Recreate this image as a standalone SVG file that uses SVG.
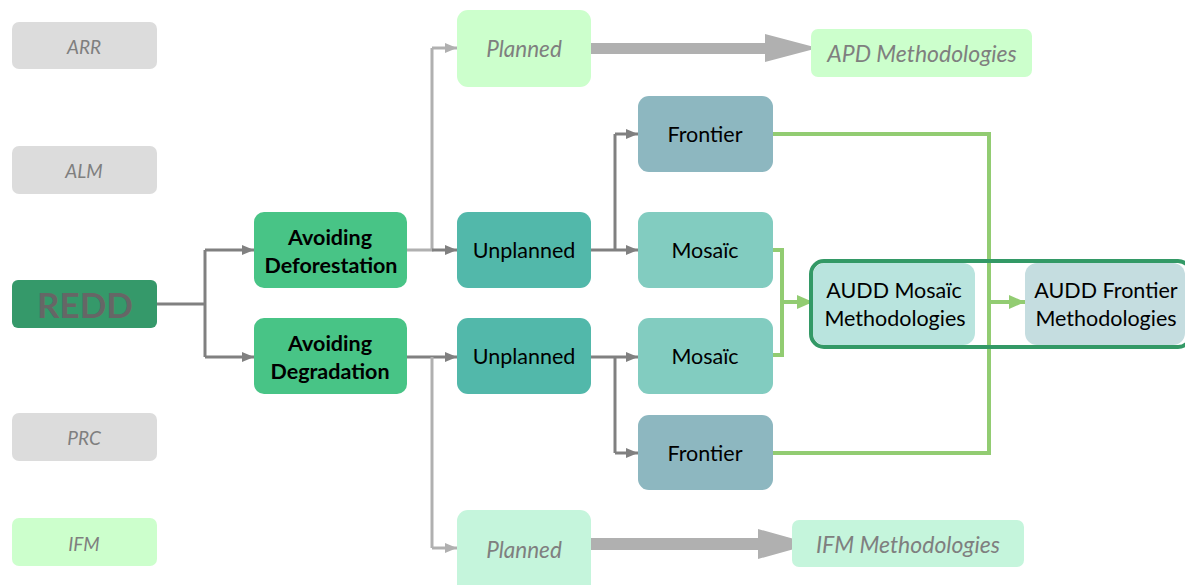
<svg xmlns="http://www.w3.org/2000/svg" width="1185" height="585" viewBox="0 0 1185 585">
<defs>
<style>
.t{font-family:Lato,"Open Sans","Liberation Sans",sans-serif;text-anchor:middle;dominant-baseline:central}
.side{fill:#dcdcdc}
.it{font-style:italic;fill:#7f7f7f}
.blk{fill:#000}
.bold{font-weight:bold}
.dg{fill:none;stroke:#808080;stroke-width:3}
.lg{fill:none;stroke:#b0b0b0;stroke-width:3}
.gr{fill:none;stroke:#92cc72;stroke-width:4}
</style>
<marker id="ad" markerUnits="userSpaceOnUse" markerWidth="12" markerHeight="12" viewBox="0 0 12 12" refX="12" refY="6" orient="auto"><path d="M0,1 L12,6 L0,11 Z" fill="#808080"/></marker>
<marker id="al" markerUnits="userSpaceOnUse" markerWidth="12" markerHeight="12" viewBox="0 0 12 12" refX="12" refY="6" orient="auto"><path d="M0,1 L12,6 L0,11 Z" fill="#b0b0b0"/></marker>
<marker id="ag" markerUnits="userSpaceOnUse" markerWidth="16" markerHeight="16" viewBox="0 0 16 16" refX="16" refY="8" orient="auto"><path d="M0,1 L16,8 L0,15 Z" fill="#92cc72"/></marker>
</defs>
<rect width="1185" height="585" fill="#fff"/>

<g id="connectors">
<path class="dg" d="M157,304 H205"/>
<path class="dg" d="M205,250 V357"/>
<path class="dg" d="M205,250 H254" marker-end="url(#ad)"/>
<path class="dg" d="M205,357 H254" marker-end="url(#ad)"/>
<path class="lg" d="M407,250 H432 V48"/>
<path class="lg" d="M432,48 H457" marker-end="url(#al)"/>
<path class="dg" d="M432,250 H457" marker-end="url(#ad)"/>
<path class="dg" d="M407,357 H457" marker-end="url(#ad)"/>
<path class="lg" d="M432,357 V548"/>
<path class="lg" d="M432,548 H457" marker-end="url(#al)"/>
<path class="dg" d="M591,250 H638" marker-end="url(#ad)" stroke-width="4"/>
<path class="dg" d="M615,250 V134"/>
<path class="dg" d="M615,134 H638" marker-end="url(#ad)"/>
<path class="dg" d="M591,357 H638" marker-end="url(#ad)" stroke-width="4"/>
<path class="dg" d="M615,357 V453"/>
<path class="dg" d="M615,453 H638" marker-end="url(#ad)"/>
<path d="M591,43 H765 V34 L818,48 L765,62 V54 H591 Z" fill="#b0b0b0"/>
<path d="M591,538 H758 V529 L812,544 L758,559 V550 H591 Z" fill="#b0b0b0"/>
<path class="gr" d="M773,250 H782 V355 H773"/>
<path class="gr" d="M782,302 H813" marker-end="url(#ag)"/>
<path class="gr" d="M773,134 H989 V453 H773"/>
<path class="gr" d="M989,302 H1025" marker-end="url(#ag)"/>
</g>

<g id="arr"><rect class="side" x="12" y="22" width="145" height="47" rx="7"/><text class="t it" x="84" y="46" font-size="19">ARR</text></g>
<g id="alm"><rect class="side" x="12" y="146" width="145" height="48" rx="7"/><text class="t it" x="84" y="170" font-size="19">ALM</text></g>
<g id="redd"><rect x="12" y="280" width="145" height="48" rx="6" fill="#35996a"/><text class="t bold" x="85" y="304" font-size="35" fill="#666666">REDD</text></g>
<g id="prc"><rect class="side" x="12" y="413" width="145" height="48" rx="7"/><text class="t it" x="84" y="437" font-size="19">PRC</text></g>
<g id="ifm"><rect x="12" y="518" width="145" height="48" rx="7" fill="#ccffcc"/><text class="t it" x="84" y="543" font-size="19">IFM</text></g>

<g id="avoid-def"><rect x="254" y="212" width="153" height="76" rx="10" fill="#48c486"/><text class="t bold blk" x="330" y="237" font-size="21.5">Avoiding</text><text class="t bold blk" x="331" y="265" font-size="21.5">Deforestation</text></g>
<g id="avoid-deg"><rect x="254" y="318" width="153" height="76" rx="10" fill="#48c486"/><text class="t bold blk" x="330" y="343" font-size="21.5">Avoiding</text><text class="t bold blk" x="330" y="371" font-size="21.5">Degradation</text></g>

<g id="planned-top"><rect x="457" y="10" width="134" height="77" rx="11" fill="#ccffcc"/><text class="t it" x="524" y="48" font-size="22.5">Planned</text></g>
<g id="unplanned-top"><rect x="457" y="212" width="134" height="76" rx="11" fill="#52b8aa"/><text class="t blk" x="524" y="250" font-size="21.5">Unplanned</text></g>
<g id="unplanned-bot"><rect x="457" y="318" width="134" height="76" rx="11" fill="#52b8aa"/><text class="t blk" x="524" y="356" font-size="21.5">Unplanned</text></g>
<g id="planned-bot"><rect x="457" y="510" width="134" height="85" rx="11" fill="#c5f5dc"/><text class="t it" x="524" y="549" font-size="22.5">Planned</text></g>

<g id="frontier-top"><rect x="638" y="96" width="135" height="76" rx="11" fill="#8db7c0"/><text class="t blk" x="705" y="134" font-size="21.5">Frontier</text></g>
<g id="mosaic-top"><rect x="638" y="212" width="135" height="76" rx="11" fill="#82ccc0"/><text class="t blk" x="705" y="250" font-size="21.5">Mosaïc</text></g>
<g id="mosaic-bot"><rect x="638" y="318" width="135" height="76" rx="11" fill="#82ccc0"/><text class="t blk" x="705" y="356" font-size="21.5">Mosaïc</text></g>
<g id="frontier-bot"><rect x="638" y="415" width="135" height="75" rx="11" fill="#8db7c0"/><text class="t blk" x="705" y="453" font-size="21.5">Frontier</text></g>

<g id="apd"><rect x="811" y="29" width="221" height="48" rx="7" fill="#ccffcc"/><text class="t it" x="922" y="53" font-size="23">APD Methodologies</text></g>
<g id="ifm-meth"><rect x="792" y="520" width="232" height="47" rx="7" fill="#c5f5dc"/><text class="t it" x="908" y="544" font-size="23">IFM Methodologies</text></g>

<g id="audd">
<rect x="813" y="263" width="162" height="82" rx="12" fill="#b9e4de"/>
<text class="t blk" x="894" y="290" font-size="21.5">AUDD Mosaïc</text>
<text class="t blk" x="895" y="318" font-size="21.5">Methodologies</text>
<rect x="1025" y="263" width="160" height="82" rx="12" fill="#c5dde0"/>
<text class="t blk" x="1106" y="290" font-size="21.5">AUDD Frontier</text>
<text class="t blk" x="1106" y="318" font-size="21.5">Methodologies</text>
<rect x="811" y="261" width="380" height="86" rx="13" fill="none" stroke="#339966" stroke-width="4"/>
</g>
</svg>
